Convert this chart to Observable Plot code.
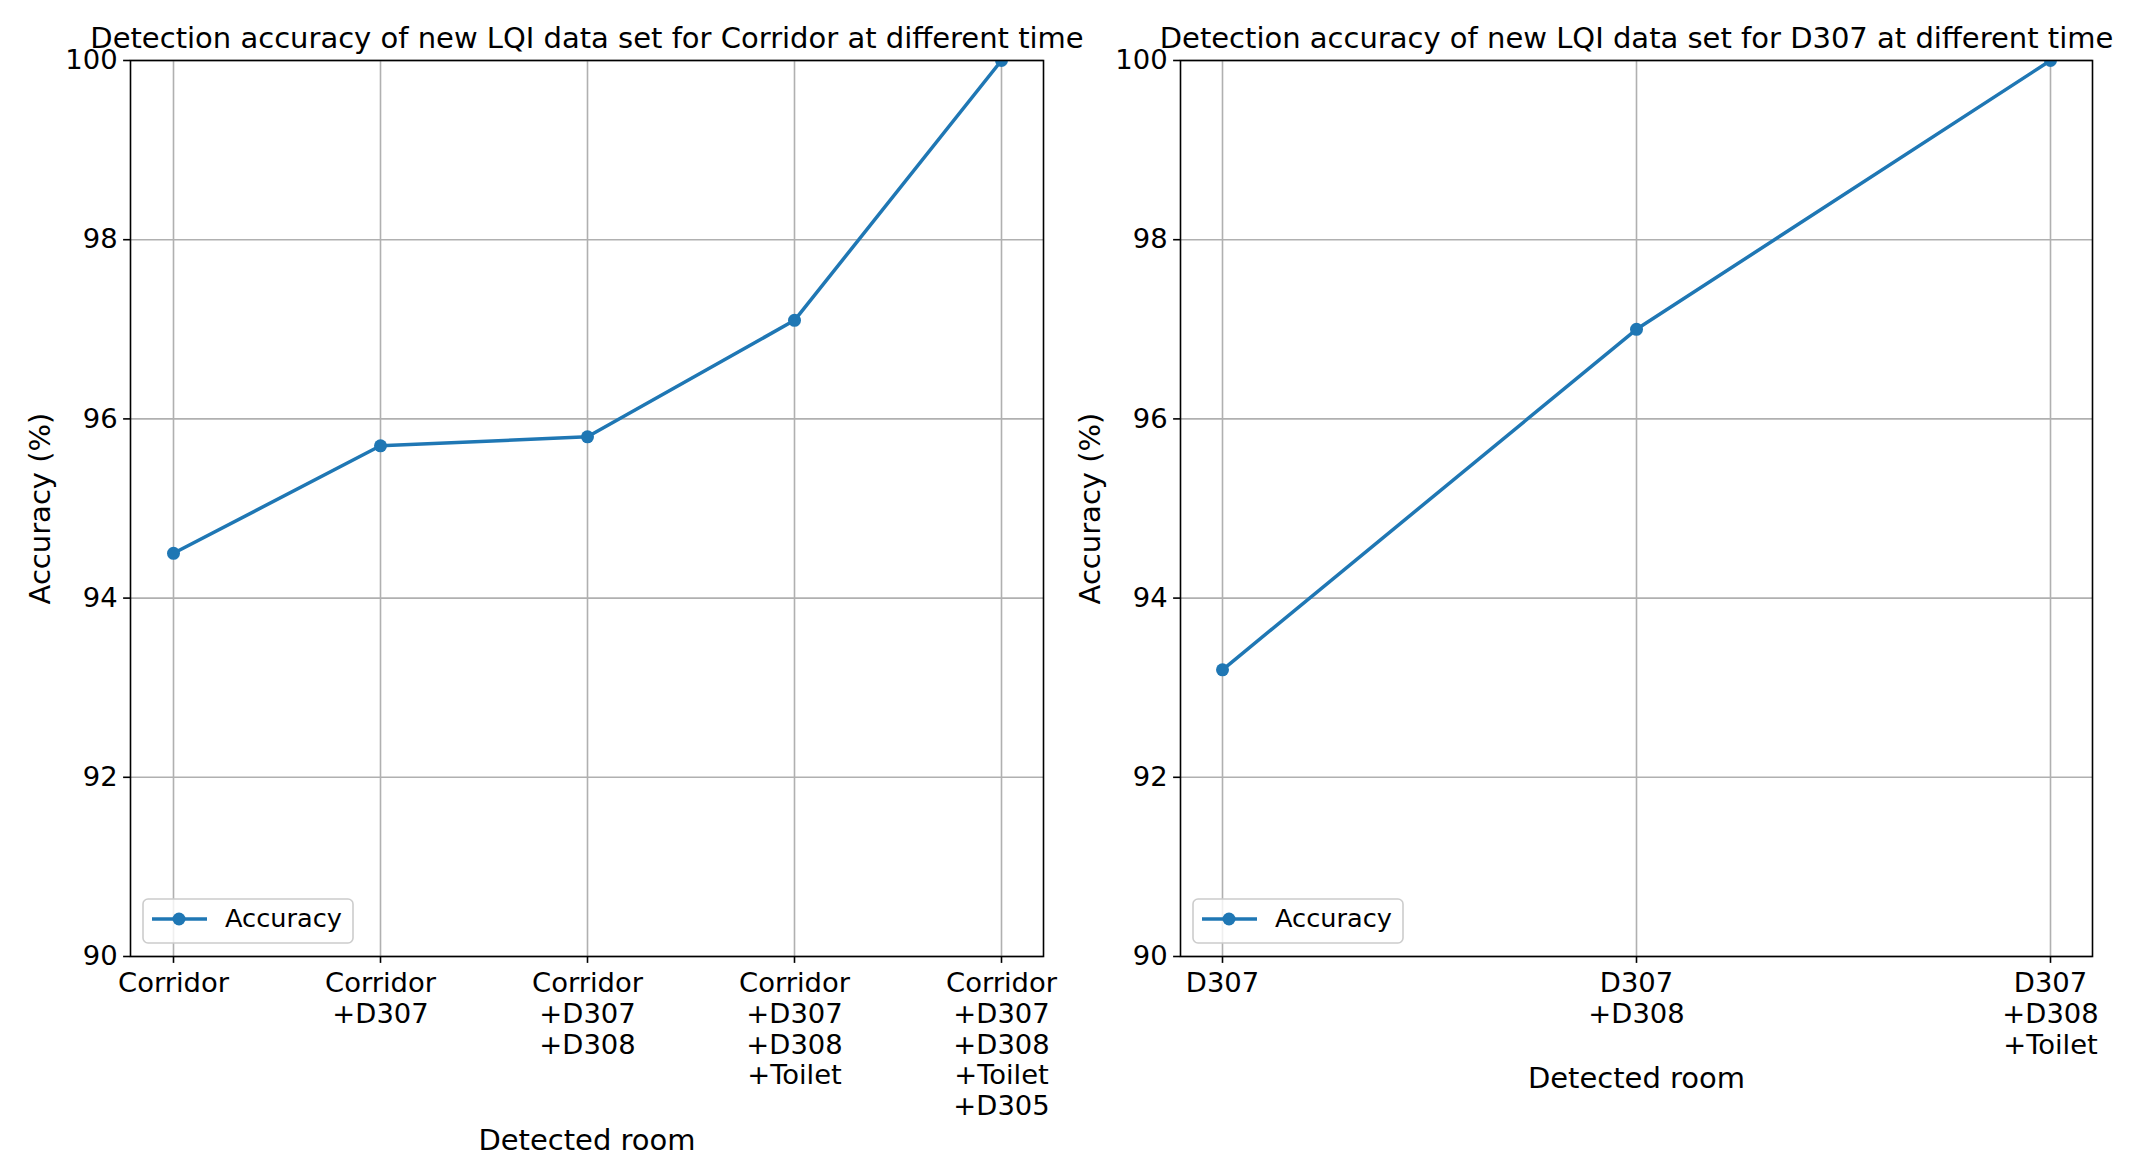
<!DOCTYPE html>
<html>
<head>
<meta charset="utf-8">
<script src="https://cdn.jsdelivr.net/npm/d3@7"></script>
<script src="https://cdn.jsdelivr.net/npm/@observablehq/plot@0.6"></script>
<style>
  html, body { margin: 0; padding: 0; background: white; }
  #wrap { position: relative; width: 2141px; height: 1176px; overflow: hidden; }
  .panel { position: absolute; top: 0; }
  .legend { position: absolute; }
  svg { overflow: visible; }
</style>
</head>
<body>
<div id="wrap"></div>
<script>
// ---- data ----
const leftTitle = "Detection accuracy of new LQI data set for Corridor at different time";
const rightTitle = "Detection accuracy of new LQI data set for D307 at different time";
const leftRooms = ["Corridor", "Corridor\n+D307", "Corridor\n+D307\n+D308", "Corridor\n+D307\n+D308\n+Toilet", "Corridor\n+D307\n+D308\n+Toilet\n+D305"];
const leftAccuracy = [94.5, 95.7, 95.8, 97.1, 100];
const rightRooms = ["D307", "D307\n+D308", "D307\n+D308\n+Toilet"];
const rightAccuracy = [93.2, 97.0, 100];
const yTicks = [90, 92, 94, 96, 98, 100];
const yDomain = [90, 100];
const xLabel = "Detected room";
const yLabel = "Accuracy (%)";
const seriesName = "Accuracy";

const BLUE = "#1f77b4";
const FONT = "DejaVu Sans";
const FS = 27.4;      // tick labels
const FS_LABEL = 29;  // title & axis labels
const FS_LEG = 25.6;  // legend
const LW = 3.5;
const R = 6.5;

function panel({rooms, acc, title, width, marginLeft, marginRight, padding, xLabelDy}) {
  const data = rooms.map((r, i) => ({room: r, acc: acc[i]}));
  return Plot.plot({
    width, height: 1176,
    marginLeft, marginRight, marginTop: 60, marginBottom: 220,
    style: {fontFamily: FONT, fontSize: FS + "px", color: "black", background: "transparent", overflow: "visible"},
    x: {type: "point", domain: rooms, padding, label: null},
    y: {domain: yDomain, label: null},
    marks: [
      Plot.gridX(rooms, {stroke: "#b0b0b0", strokeOpacity: 1, strokeWidth: 1.6}),
      Plot.gridY(yTicks, {stroke: "#b0b0b0", strokeOpacity: 1, strokeWidth: 1.6}),
      Plot.line(data, {x: "room", y: "acc", stroke: BLUE, strokeWidth: LW, clip: true}),
      Plot.dot(data, {x: "room", y: "acc", r: R, fill: BLUE, stroke: "none", clip: true}),
      Plot.frame({stroke: "black", strokeWidth: 1.6}),
      Plot.axisX({tickSize: 6.9, tickPadding: 7, strokeWidth: 1.6, lineHeight: 1.12, label: null, fontSize: FS}),
      Plot.axisY(yTicks, {tickSize: 6.9, tickPadding: 6, strokeWidth: 1.6, label: null, fontSize: FS, tickFormat: d => String(d)}),
      Plot.text([title], {frameAnchor: "top", textAnchor: "middle", lineAnchor: "bottom", dy: -13, fontSize: FS_LABEL}),
      Plot.text([xLabel], {frameAnchor: "bottom", textAnchor: "middle", lineAnchor: "bottom", dy: xLabelDy, fontSize: FS_LABEL}),
      Plot.text([yLabel], {frameAnchor: "left", textAnchor: "middle", rotate: -90, dx: -90, fontSize: FS_LABEL})
    ]
  });
}

function legend(left, top) {
  const svg = d3.create("svg").attr("class", "legend").attr("width", 220).attr("height", 52)
    .style("left", left + "px").style("top", top + "px");
  svg.append("rect").attr("x", 3).attr("y", 3).attr("width", 210).attr("height", 44).attr("rx", 5)
    .attr("fill", "white").attr("fill-opacity", 0.8).attr("stroke", "#cccccc").attr("stroke-width", 1.6);
  svg.append("line").attr("x1", 12).attr("x2", 67).attr("y1", 23).attr("y2", 23)
    .attr("stroke", BLUE).attr("stroke-width", LW);
  svg.append("circle").attr("cx", 39).attr("cy", 23).attr("r", R).attr("fill", BLUE);
  svg.append("text").attr("x", 85).attr("y", 31).attr("font-family", FONT).attr("font-size", FS_LEG)
    .attr("fill", "black").text(seriesName);
  return svg.node();
}

const wrap = document.getElementById("wrap");
const left = panel({rooms: leftRooms, acc: leftAccuracy, title: leftTitle, width: 1075, marginLeft: 130, marginRight: 32, padding: 0.2, xLabelDy: 193});
left.classList.add("panel"); left.style.position = "absolute"; left.style.left = "0px"; left.style.top = "0px";
const right = panel({rooms: rightRooms, acc: rightAccuracy, title: rightTitle, width: 1066, marginLeft: 105, marginRight: 49, padding: 0.1, xLabelDy: 131});
right.classList.add("panel"); right.style.position = "absolute"; right.style.left = "1075px"; right.style.top = "0px";
wrap.appendChild(left);
wrap.appendChild(right);
wrap.appendChild(legend(140, 896));
wrap.appendChild(legend(1190, 896));
</script>
</body>
</html>
